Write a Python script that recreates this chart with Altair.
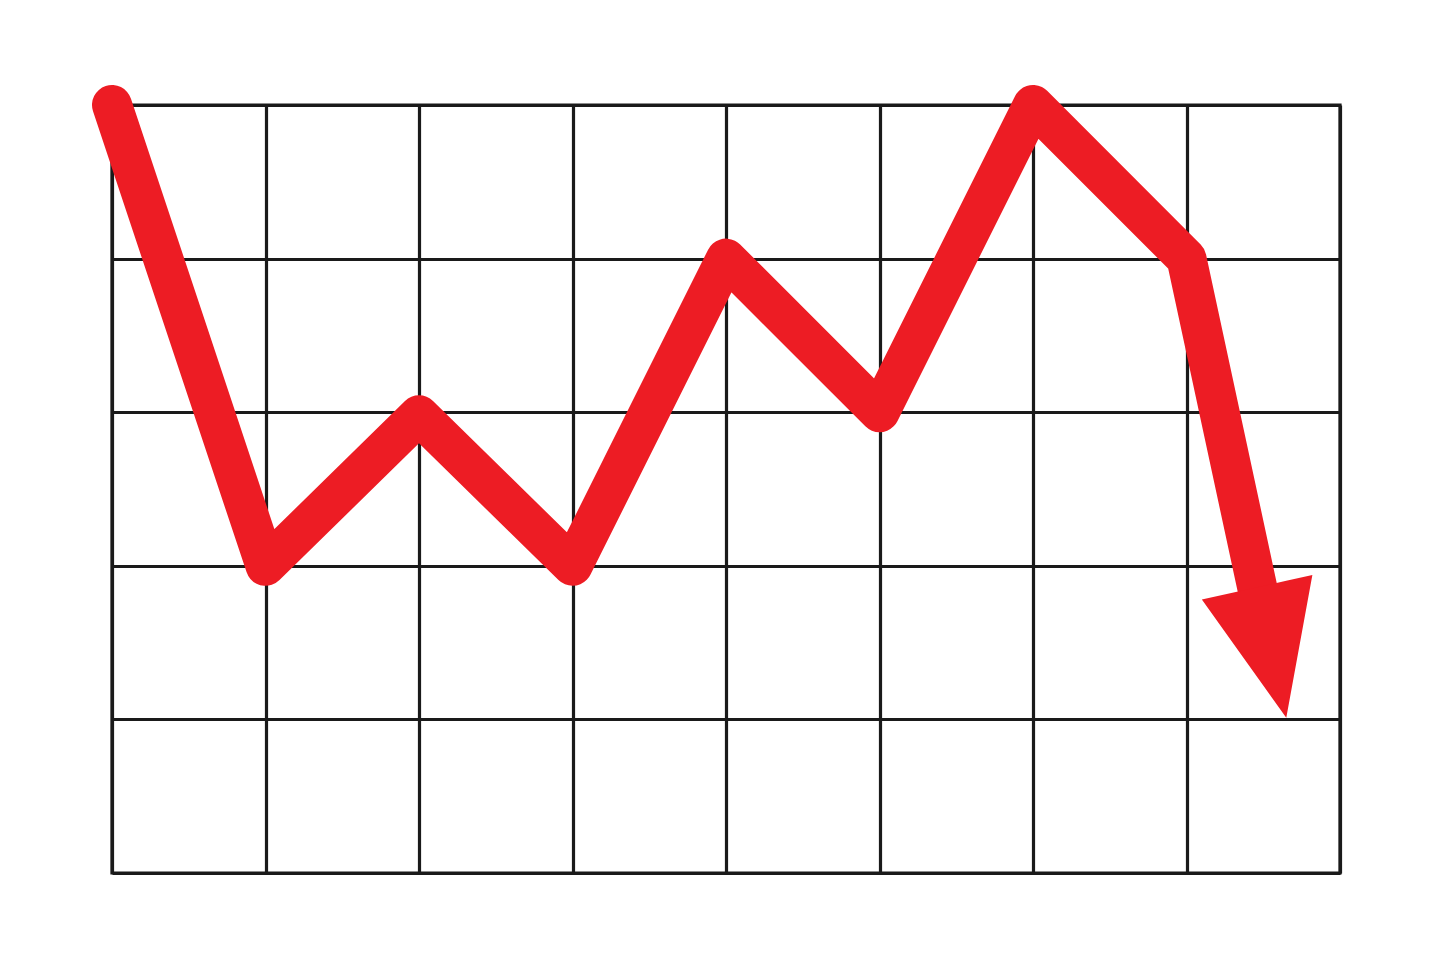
import altair as alt
import pandas as pd

# Zig-zag line (grid units: x 0..8 columns, y 0..5 rows)
line_x = [0, 1, 2, 3, 4, 5, 6, 7, 7.48]
line_y = [5, 2, 2.98, 2, 4, 3, 5, 4, 1.77]

# Arrow head (drawn as area between y and y2)
head_x = [7.10, 7.65, 7.82]
head_y = [1.78, 1.01, 1.94]
head_y2 = [1.78, 1.902, 1.94]

grid_x = list(range(0, 9))
grid_y = list(range(0, 6))

RED = "#ED1C24"

line_df = pd.DataFrame({"x": line_x, "y": line_y, "order": list(range(len(line_x)))})
head_df = pd.DataFrame({"x": head_x, "y": head_y, "y2": head_y2})

xscale = alt.Scale(domain=[0, 8], nice=False, zero=False)
yscale = alt.Scale(domain=[0, 5], nice=False, zero=False)

xaxis = alt.Axis(values=grid_x, grid=True, gridColor="#1a1a1a", gridWidth=3.2, gridOpacity=1,
                 labels=False, ticks=False, domain=False, title=None)
yaxis = alt.Axis(values=grid_y, grid=True, gridColor="#1a1a1a", gridWidth=3.2, gridOpacity=1,
                 labels=False, ticks=False, domain=False, title=None)

line = alt.Chart(line_df).mark_line(
    color=RED, strokeWidth=40, strokeCap="round", strokeJoin="round"
).encode(
    x=alt.X("x:Q", scale=xscale, axis=xaxis),
    y=alt.Y("y:Q", scale=yscale, axis=yaxis),
    order="order:Q",
)

head = alt.Chart(head_df).mark_area(color=RED, opacity=1).encode(
    x=alt.X("x:Q", scale=xscale),
    y=alt.Y("y:Q", scale=yscale),
    y2="y2:Q",
)

chart = alt.layer(line, head).properties(
    width=1228,
    height=768,
    autosize=alt.AutoSizeParams(type="none"),
    padding={"left": 104, "top": 97, "right": 100, "bottom": 90},
    background="white",
).configure_view(stroke="#1a1a1a", strokeWidth=3.2)

chart.save("out.html", embed_options={"renderer": "svg", "actions": False})
